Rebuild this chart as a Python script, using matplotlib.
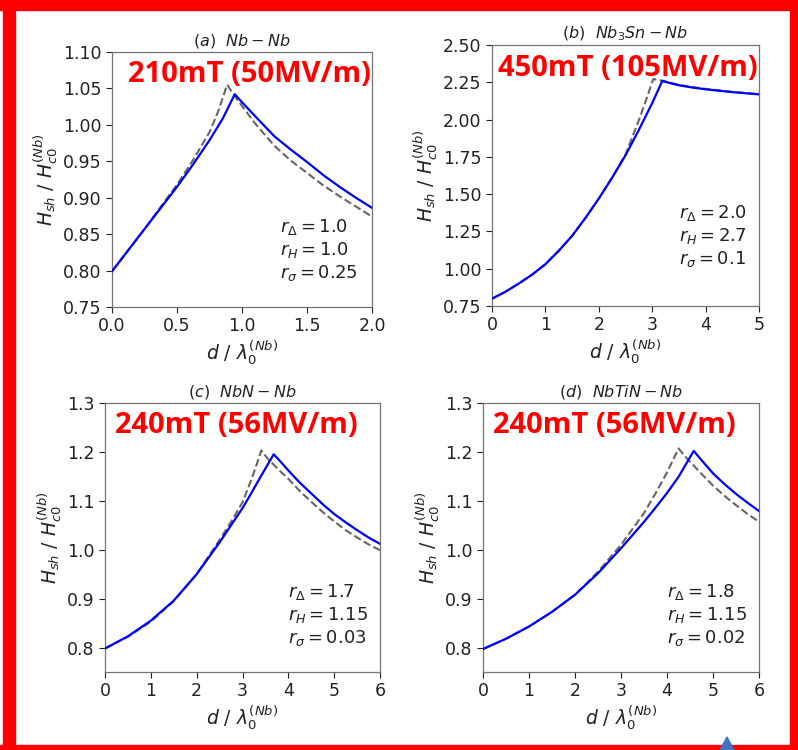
import matplotlib
matplotlib.use("Agg")
import matplotlib.pyplot as plt
from matplotlib.patches import Rectangle, Polygon

# ---- data ----
# (a) Nb - Nb
a_blue_x = [0.0, 0.25, 0.5, 0.625, 0.75, 0.85, 0.944, 1.0, 1.1, 1.25, 1.375, 1.5, 1.625, 1.75, 1.875, 2.0]
a_blue_y = [0.799, 0.857, 0.915, 0.946, 0.979, 1.008, 1.042, 1.031, 1.012, 0.984, 0.966, 0.949, 0.931, 0.915, 0.900, 0.886]
a_dash_x = [0.0, 0.25, 0.5, 0.625, 0.75, 0.82, 0.885, 0.95, 1.0, 1.1, 1.25, 1.375, 1.5, 1.625, 1.75, 1.875, 2.0]
a_dash_y = [0.799, 0.857, 0.918, 0.952, 0.990, 1.020, 1.055, 1.038, 1.026, 1.002, 0.971, 0.951, 0.934, 0.917, 0.902, 0.888, 0.874]

# (b) Nb3Sn - Nb
b_blue_x = [0.0, 0.25, 0.5, 0.75, 1.0, 1.25, 1.5, 1.75, 2.0, 2.25, 2.5, 2.75, 3.0, 3.19,
            3.35, 3.5, 3.75, 4.0, 4.5, 5.0]
b_blue_y = [0.799, 0.845, 0.90, 0.96, 1.03, 1.12, 1.22, 1.34, 1.47, 1.61, 1.76, 1.93, 2.11, 2.259,
            2.243, 2.230, 2.215, 2.203, 2.184, 2.169]
b_dash_x = [0.0, 0.25, 0.5, 0.75, 1.0, 1.25, 1.5, 1.75, 2.0, 2.25, 2.5, 2.75, 2.9, 3.02, 3.1, 3.19,
            3.35, 3.5, 3.75, 4.0, 4.5, 5.0]
b_dash_y = [0.799, 0.845, 0.90, 0.96, 1.03, 1.12, 1.22, 1.34, 1.47, 1.612, 1.765, 1.995, 2.145, 2.272, 2.266, 2.261,
            2.246, 2.233, 2.218, 2.206, 2.186, 2.171]

# (c) NbN - Nb
c_blue_x = [0.0, 0.5, 1.0, 1.5, 2.0, 2.5, 3.0, 3.2, 3.4, 3.68, 3.85, 4.0, 4.25, 4.5, 4.75,
            5.0, 5.25, 5.5, 5.75, 6.0]
c_blue_y = [0.798, 0.823, 0.855, 0.896, 0.950, 1.015, 1.085, 1.117, 1.150, 1.195, 1.178, 1.162, 1.137, 1.115, 1.093,
            1.073, 1.056, 1.040, 1.025, 1.012]
c_dash_x = [0.0, 0.5, 1.0, 1.5, 2.0, 2.5, 2.75, 3.0, 3.2, 3.3, 3.41, 3.55, 3.7, 3.85, 4.0, 4.25, 4.5,
            4.75, 5.0, 5.25, 5.5, 5.75, 6.0]
c_dash_y = [0.798, 0.822, 0.853, 0.895, 0.950, 1.020, 1.057, 1.097, 1.145, 1.172, 1.203, 1.186, 1.172, 1.158, 1.145,
            1.120, 1.098, 1.077, 1.058, 1.040, 1.025, 1.011, 0.999]

# (d) NbTiN - Nb
d_blue_x = [0.0, 0.5, 1.0, 1.5, 2.0, 2.5, 3.0, 3.5, 3.75, 4.0, 4.25, 4.58, 4.75, 5.0, 5.25, 5.5, 5.75, 6.0]
d_blue_y = [0.797, 0.818, 0.843, 0.873, 0.908, 0.952, 1.003, 1.057, 1.086, 1.116, 1.149, 1.202, 1.183, 1.156,
            1.134, 1.114, 1.096, 1.079]
d_dash_x = [0.0, 0.5, 1.0, 1.5, 2.0, 2.5, 3.0, 3.5, 3.75, 4.0, 4.25, 4.4, 4.58, 4.75, 5.0, 5.25, 5.5, 5.75, 6.0]
d_dash_y = [0.797, 0.818, 0.843, 0.873, 0.908, 0.955, 1.010, 1.075, 1.115, 1.158, 1.207, 1.190, 1.172, 1.155,
            1.131, 1.110, 1.091, 1.073, 1.057]

titles = [r"$(a)\ \ Nb-Nb$", r"$(b)\ \ Nb_3Sn-Nb$", r"$(c)\ \ NbN-Nb$", r"$(d)\ \ NbTiN-Nb$"]
field_labels = ["210mT (50MV/m)", "450mT (105MV/m)", "240mT (56MV/m)", "240mT (56MV/m)"]
r_delta = ["1.0", "2.0", "1.7", "1.8"]
r_h = ["1.0", "2.7", "1.15", "1.15"]
r_sigma = ["0.25", "0.1", "0.03", "0.02"]
x_limits = [(0, 2), (0, 5), (0, 6), (0, 6)]
x_ticks = [[0.0, 0.5, 1.0, 1.5, 2.0], [0, 1, 2, 3, 4, 5], [0, 1, 2, 3, 4, 5, 6], [0, 1, 2, 3, 4, 5, 6]]
y_limits = [(0.75, 1.10), (0.75, 2.50), (0.75, 1.30), (0.75, 1.30)]
y_ticks = [[0.75, 0.80, 0.85, 0.90, 0.95, 1.00, 1.05, 1.10],
           [0.75, 1.00, 1.25, 1.50, 1.75, 2.00, 2.25, 2.50],
           [0.8, 0.9, 1.0, 1.1, 1.2, 1.3],
           [0.8, 0.9, 1.0, 1.1, 1.2, 1.3]]
x_fmt = ["%.1f", "%d", "%d", "%d"]
y_fmt = ["%.2f", "%.2f", "%.1f", "%.1f"]

curves = [(a_blue_x, a_blue_y, a_dash_x, a_dash_y),
          (b_blue_x, b_blue_y, b_dash_x, b_dash_y),
          (c_blue_x, c_blue_y, c_dash_x, c_dash_y),
          (d_blue_x, d_blue_y, d_dash_x, d_dash_y)]

# layout (figure fractions)
axes_rects = [[0.1404, 0.5907, 0.3258, 0.340],
              [0.6165, 0.5920, 0.3346, 0.348],
              [0.1316, 0.1040, 0.3446, 0.3587],
              [0.6053, 0.1040, 0.3459, 0.3587]]
label_pos = [(0.062, 0.882), (0.022, 0.881), (0.036, 0.888), (0.036, 0.888)]
ann_pos = [(0.646, 0.095), (0.70, 0.14), (0.665, 0.09), (0.667, 0.09)]

fig = plt.figure(figsize=(7.98, 7.5), dpi=100)

for i in range(4):
    ax = fig.add_axes(axes_rects[i])
    bx, by, dx, dy = curves[i]
    ax.plot(dx, dy, color="0.4", linestyle="--", lw=1.5, zorder=2)
    ax.plot(bx, by, color="blue", lw=1.6, zorder=3)
    ax.set_xlim(*x_limits[i])
    ax.set_ylim(*y_limits[i])
    ax.set_xticks(x_ticks[i])
    ax.set_yticks(y_ticks[i])
    ax.set_xticklabels([x_fmt[i] % v for v in x_ticks[i]])
    ax.set_yticklabels([y_fmt[i] % v for v in y_ticks[i]])
    ax.tick_params(labelsize=12.5, colors="#222222", length=4, width=0.8)
    for s in ax.spines.values():
        s.set_color("0.45")
        s.set_linewidth(0.9)
    ax.set_title(titles[i], fontsize=11.5, color="#222222", pad=5)
    ax.set_xlabel(r"$d\ /\ \lambda_0^{(Nb)}$", fontsize=13.5, color="#222222", labelpad=2)
    ax.set_ylabel(r"$H_{sh}\ /\ H_{c0}^{(Nb)}$", fontsize=13.5, color="#222222", labelpad=2)
    ann = (r"$r_\Delta = %s$" % r_delta[i] + "\n" + r"$r_H = %s$" % r_h[i]
           + "\n" + r"$r_\sigma = %s$" % r_sigma[i])
    ax.text(ann_pos[i][0], ann_pos[i][1], ann, transform=ax.transAxes,
            fontsize=13, color="#222222", ha="left", va="bottom", linespacing=1.2)
    ax.text(label_pos[i][0], label_pos[i][1], field_labels[i], transform=ax.transAxes,
            fontsize=21, fontweight="bold", family=["Open Sans", "DejaVu Sans"],
            color="red", ha="left", va="baseline", zorder=5)

# red frame around the whole slide
red = "#ff0000"
fig.patches.append(Rectangle((3 / 798, 0), 12 / 798, 1, transform=fig.transFigure, color=red))
fig.patches.append(Rectangle((0, 1 - 10 / 750), 1, 10 / 750, transform=fig.transFigure, color=red))
fig.patches.append(Rectangle((790 / 798, 0), 8 / 798, 1, transform=fig.transFigure, color=red))
fig.patches.append(Rectangle((0, 0), 1, 5 / 750, transform=fig.transFigure, color=red))
# small blue marker at the bottom
fig.patches.append(Polygon([(720 / 798, 0), (734 / 798, 0), (727 / 798, 13 / 750)],
                           closed=True, transform=fig.transFigure, color="#4472c4"))

fig.savefig("out.png", dpi=100)
